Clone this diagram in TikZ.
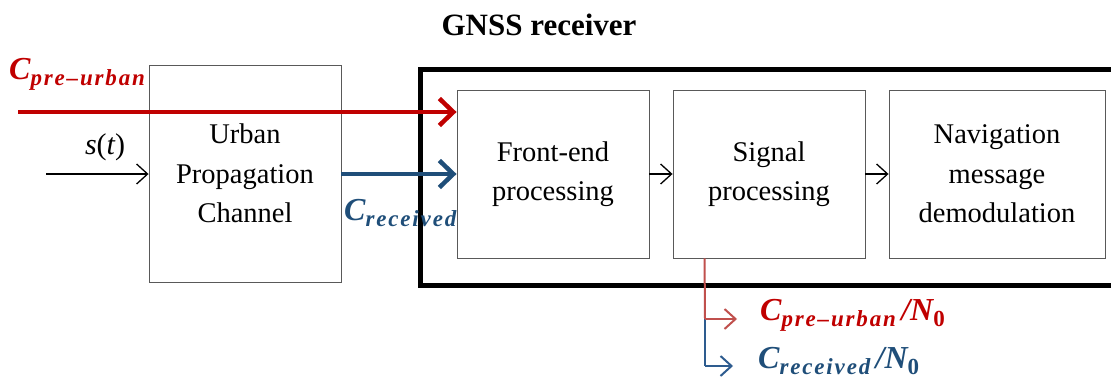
\documentclass[tikz,border=0pt]{standalone}
\usepackage{fontspec}
\setmainfont{Liberation Serif}
\usetikzlibrary{arrows.meta}
\definecolor{cred}{HTML}{C00000}
\definecolor{cblue}{HTML}{1F4E79}
\definecolor{lred}{HTML}{C0504D}
\definecolor{lblue}{HTML}{2E5C8F}
\newcommand{\Clab}[1]{{\bfseries\itshape C}\raisebox{-0.4ex}{\fontsize{23}{23}\selectfont\bfseries\itshape\addfontfeatures{LetterSpace=8} #1}}
\newcommand{\Nlab}{{\bfseries\itshape\,/N}\raisebox{-0.4ex}{\fontsize{23}{23}\selectfont\bfseries 0}}
\tikzset{
  blk/.style={draw=black!65, line width=0.9pt, fill=white, align=center, inner sep=0pt,
    font=\fontsize{28.5}{39.5}\selectfont},
  thin/.style={line width=1.3pt, -{Straight Barb[length=11pt,width=20pt,line width=1.3pt]}},
  fat/.style={line width=4.5pt, -{Straight Barb[length=14pt,width=27pt,line width=4.5pt]}},
  med/.style={line width=2pt, -{Straight Barb[length=11pt,width=20pt,line width=2pt]}},
}
\begin{document}
\begin{tikzpicture}[x=1pt,y=-1pt]
\useasboundingbox (0,0) rectangle (1111,378);
\clip (0,0) rectangle (1111,378);
% receiver frame
\node[draw=black, line width=5pt, minimum width=707pt, minimum height=216pt, anchor=north west, inner sep=0pt] (rx) at (418,67) {};
\node[font=\fontsize{31}{31}\selectfont\bfseries] (title) at (539,25) {GNSS receiver};
% blocks
\node[blk, minimum width=192pt, minimum height=217pt] (urban) at (245,173.5) {Urban\\Propagation\\Channel};
\node[blk, minimum width=192pt, minimum height=168pt] (fe) at (553,174) {Front-end\\processing};
\node[blk, minimum width=192pt, minimum height=168pt] (sp) at (769,174) {Signal\\processing};
\node[blk, minimum width=216pt, minimum height=168pt] (nav) at (997,174) {Navigation\\message\\demodulation};
% inputs
\coordinate (rin) at (18,112);
\coordinate (sin) at (46,174);
\draw[fat, cred] (rin) -- (rin -| fe.west);
\draw[thin] (sin) -- (urban.west |- sin);
\draw[fat, cblue] (urban.east |- sin) -- (fe.west |- sin);
\draw[thin] (fe.east |- sin) -- (sp.west |- sin);
\draw[thin] (sp.east |- sin) -- (nav.west |- sin);
% labels
\node[font=\fontsize{32}{32}\selectfont, text=cred, anchor=west, inner sep=0pt] (lpre) at (9,74) {\Clab{pre–urban}};
\node[font=\fontsize{30}{30}\selectfont, anchor=center, inner sep=0pt] (ls) at (105,147) {\itshape s\upshape(\itshape t\upshape)};
\node[font=\fontsize{32}{32}\selectfont, text=cblue, anchor=west, inner sep=0pt] (lrec) at (344,213) {\Clab{received}};
% outputs
\coordinate (tap) at ([xshift=32pt]sp.south west);
\coordinate (br) at (705,319);
\coordinate (bb) at (705,366);
\coordinate (er) at (737,319);
\coordinate (eb) at (733,366);
\draw[lred, line width=2pt] (tap) -- (br);
\draw[lblue, line width=2pt] (br) -- (bb);
\draw[med, lred] (br) -- (er);
\draw[med, lblue] (bb) -- (eb);
\node[font=\fontsize{32}{32}\selectfont, text=cred, anchor=west, inner sep=0pt] (opre) at (760,315) {\Clab{pre–urban}\Nlab};
\node[font=\fontsize{32}{32}\selectfont, text=cblue, anchor=west, inner sep=0pt] (orec) at (758,361) {\Clab{received}\Nlab};
\end{tikzpicture}
\end{document}
